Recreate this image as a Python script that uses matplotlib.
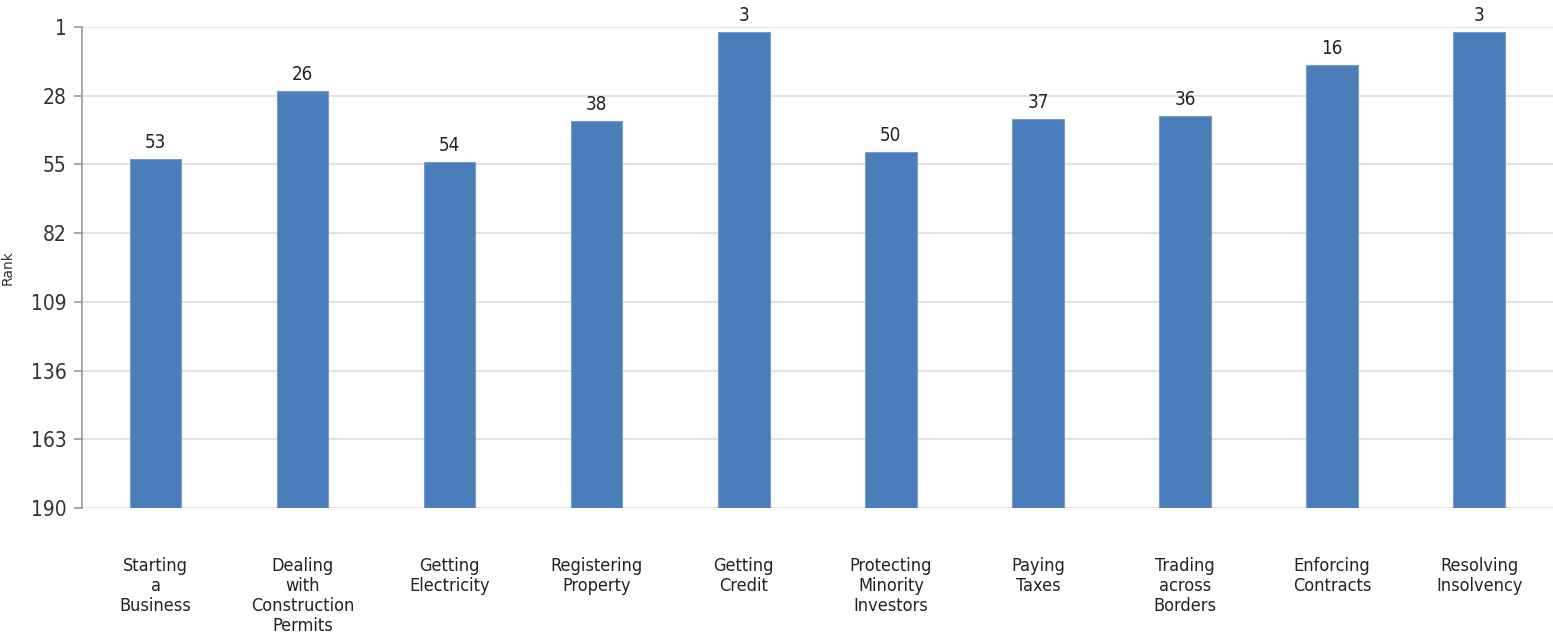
import numpy as np
import matplotlib.pyplot as plt

# Data
categories = ['Starting\na\nBusiness', 'Dealing\nwith\nConstruction\nPermits',
              'Getting\nElectricity', 'Registering\nProperty', 'Getting\nCredit',
              'Protecting\nMinority\nInvestors', 'Paying\nTaxes', 'Trading\nacross\nBorders',
              'Enforcing\nContracts', 'Resolving\nInsolvency']
ranks = [53, 26, 54, 38, 3, 50, 37, 36, 16, 3]
y_ticks = [1, 28, 55, 82, 109, 136, 163, 190]

plt.rcParams['font.family'] = ['DejaVu Sans']

fig = plt.figure(figsize=(15.53, 6.4), dpi=100)
ax = fig.add_axes([0.0528, 0.206, 0.947, 0.752])

x = np.arange(len(categories))
bottom = 190
heights = [r - bottom for r in ranks]
ax.bar(x, heights, bottom=bottom, width=0.35, color='#4a7ebb',
       edgecolor='#7a9cc8', linewidth=0.8, zorder=3)

# rank labels above each bar
for xi, r in zip(x, ranks):
    ax.annotate(str(r), (xi, r), textcoords='offset points', xytext=(0, 5),
                ha='center', va='bottom', fontsize=13.5, fontstretch='condensed',
                color='#222222')

ax.set_ylim(190, 1)
ax.set_xlim(-0.5, len(categories) - 0.5)
ax.set_yticks(y_ticks)
ax.set_yticklabels([str(t) for t in y_ticks], fontsize=15, color='#333333',
                   fontstretch='condensed')
ax.set_xticks(x)
ax.set_xticklabels(categories, fontsize=13, color='#222222', linespacing=1.15,
                   fontstretch='condensed')
ax.tick_params(axis='x', length=0, pad=35)
ax.tick_params(axis='y', length=6, color='#999999', width=1.2, pad=5)
ax.grid(axis='y', color='#dddddd', linewidth=1.2, zorder=0)

for s in ['top', 'right', 'bottom']:
    ax.spines[s].set_visible(False)
ax.spines['left'].set_color('#999999')
ax.spines['left'].set_linewidth(1.2)

ax.set_ylabel('Rank', fontsize=10, color='#333333', labelpad=12)

fig.savefig('out.png', dpi=100)
